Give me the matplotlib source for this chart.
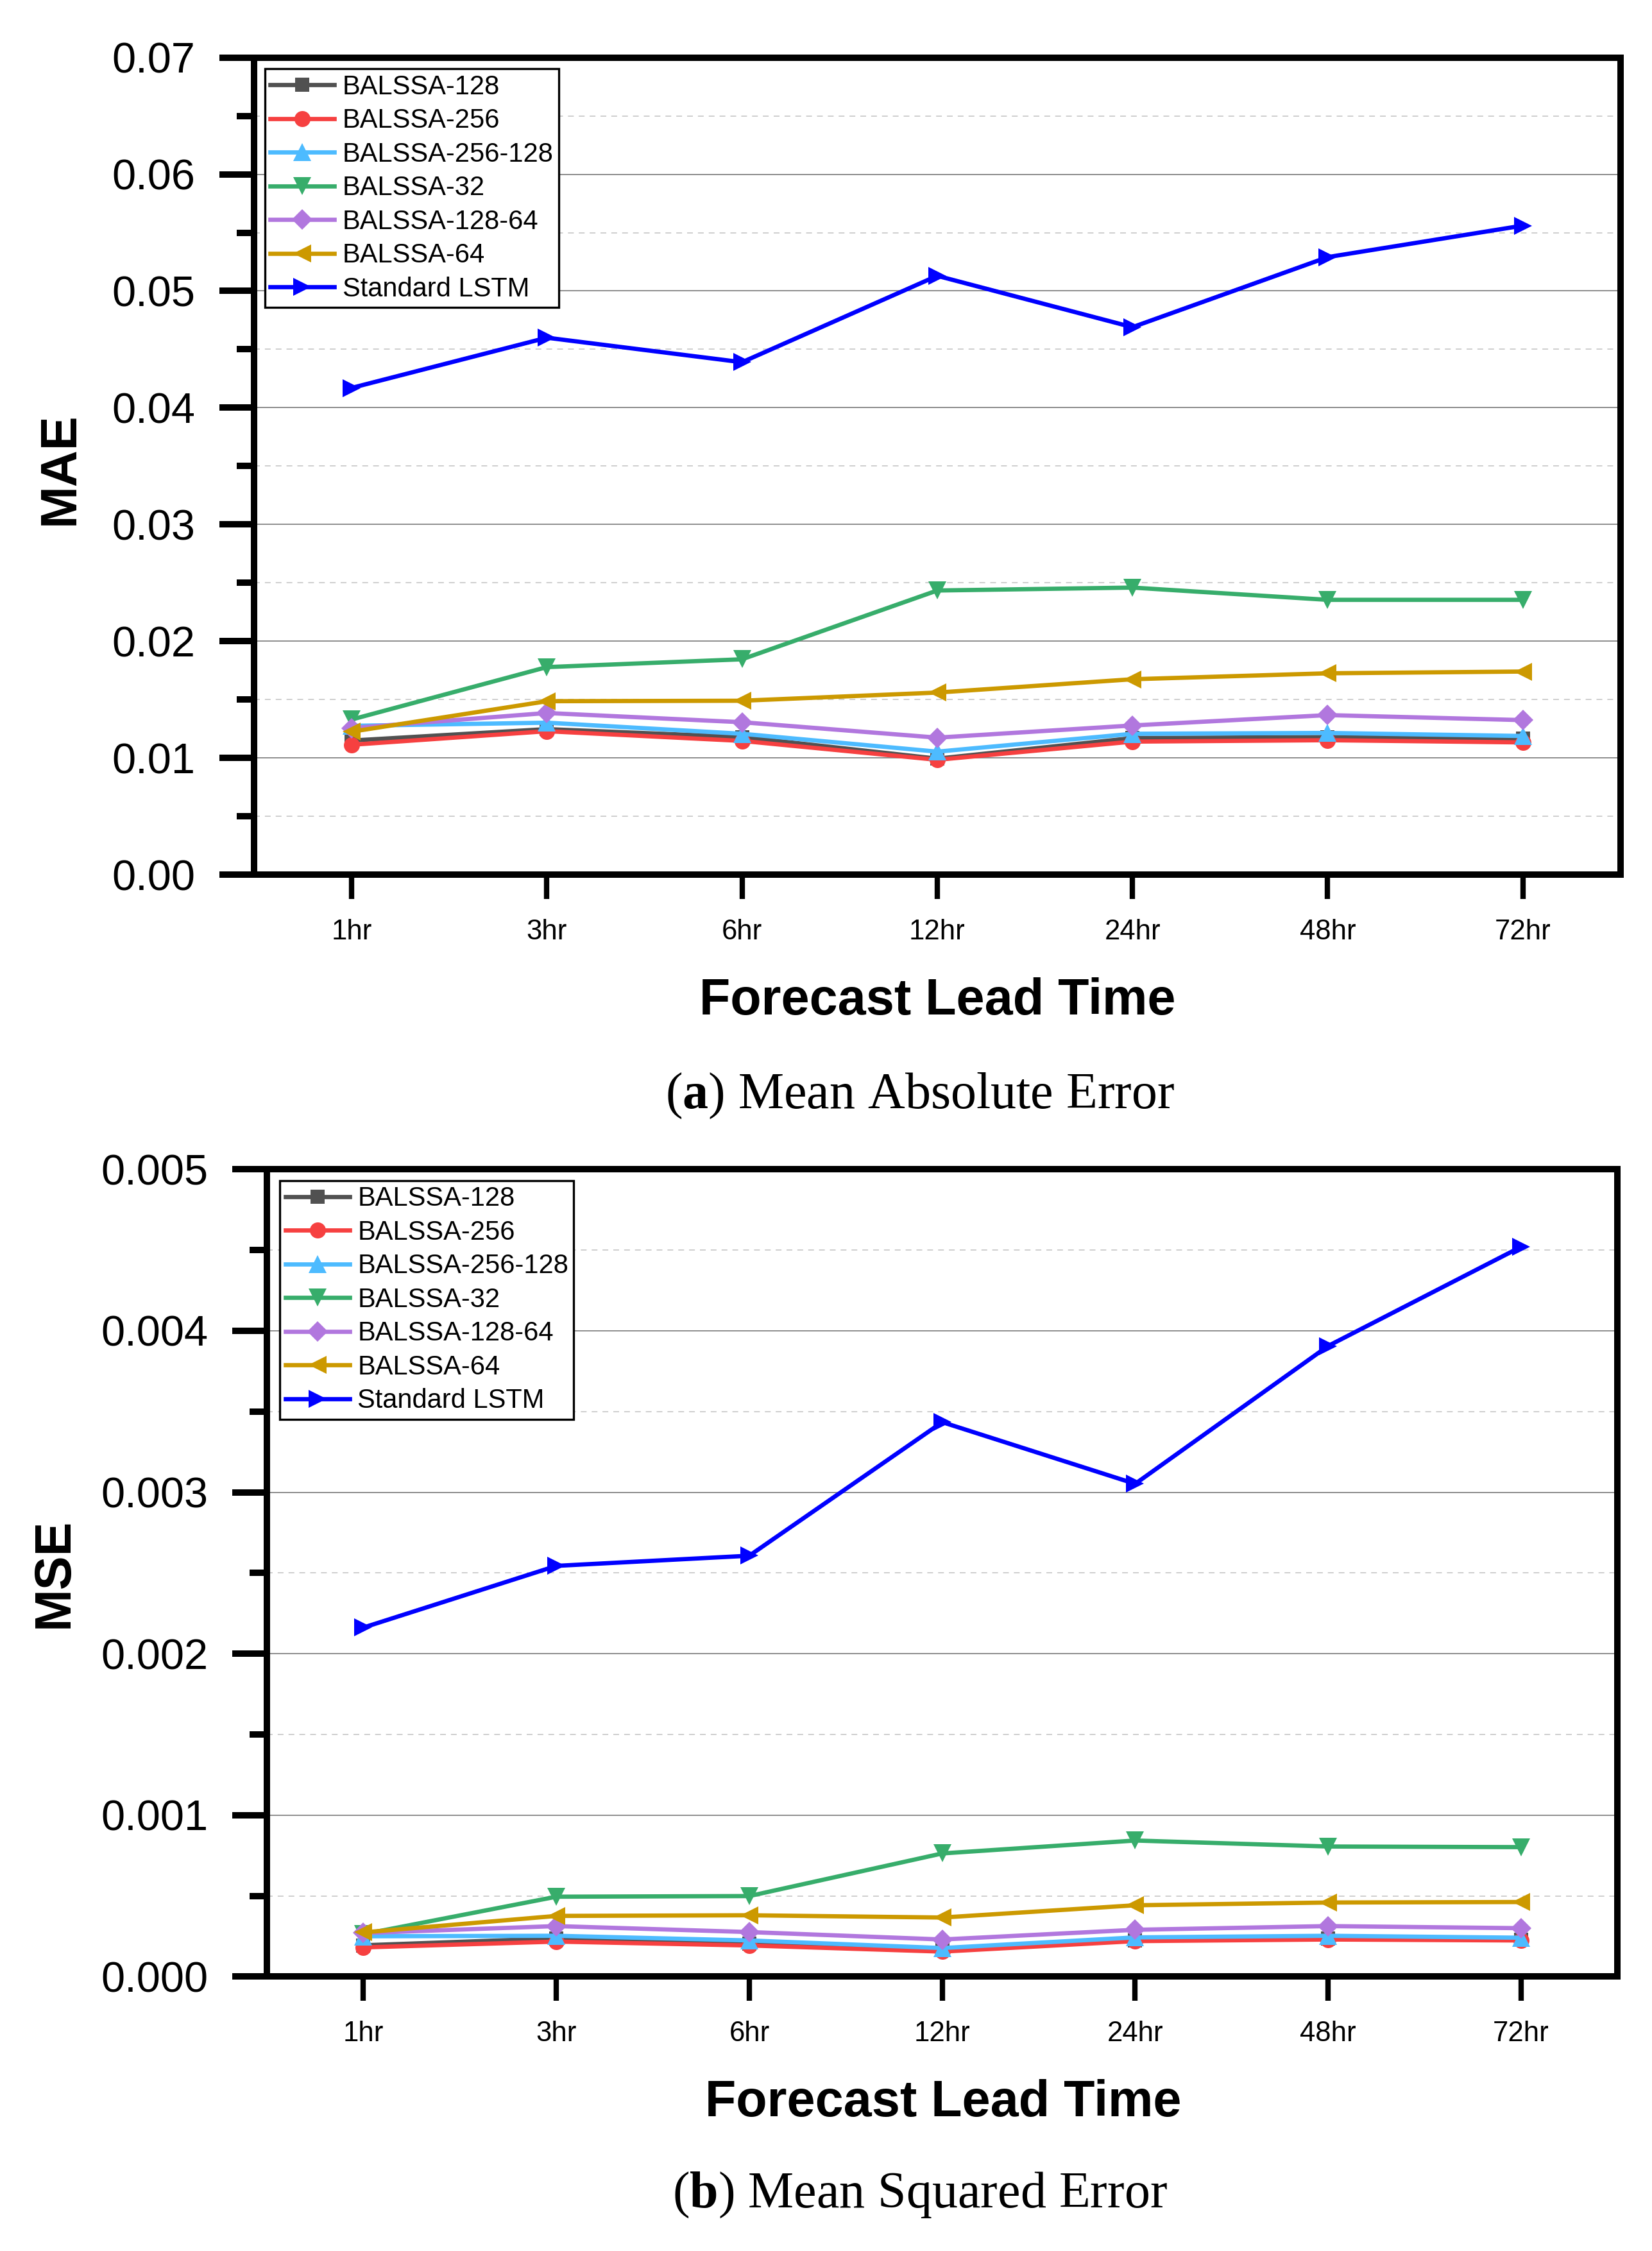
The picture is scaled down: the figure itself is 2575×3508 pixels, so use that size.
import matplotlib
matplotlib.use("Agg")
import matplotlib.pyplot as plt
from matplotlib.ticker import MultipleLocator, FormatStrFormatter

plt.rcParams['font.family'] = ['Liberation Sans', 'DejaVu Sans']
plt.rcParams['mathtext.fontset'] = 'custom'
plt.rcParams['mathtext.rm'] = 'Liberation Serif'
plt.rcParams['mathtext.bf'] = 'Liberation Serif:bold'

lead_times = ["1hr", "3hr", "6hr", "12hr", "24hr", "48hr", "72hr"]
series_names = ["BALSSA-128", "BALSSA-256", "BALSSA-256-128", "BALSSA-32",
                "BALSSA-128-64", "BALSSA-64", "Standard LSTM"]

mae_balssa_128 = [0.01150, 0.01248, 0.01180, 0.00995, 0.01171, 0.01180, 0.01165]
mae_balssa_256 = [0.01114, 0.01230, 0.01147, 0.00985, 0.01141, 0.01153, 0.01134]
mae_balssa_256_128 = [0.01276, 0.01303, 0.01208, 0.01055, 0.01208, 0.01215, 0.01189]
mae_balssa_32 = [0.01330, 0.01779, 0.01846, 0.02435, 0.02460, 0.02355, 0.02355]
mae_balssa_128_64 = [0.01257, 0.01386, 0.01307, 0.01175, 0.01279, 0.01368, 0.01325]
mae_balssa_64 = [0.01226, 0.01487, 0.01491, 0.01561, 0.01675, 0.01726, 0.01741]
mae_lstm = [0.0417, 0.0460, 0.0439, 0.0513, 0.0469, 0.0529, 0.0556]

mse_balssa_128 = [0.000194, 0.000237, 0.000204, 0.000168, 0.000226, 0.000237, 0.000230]
mse_balssa_256 = [0.000181, 0.000217, 0.000193, 0.000155, 0.000220, 0.000230, 0.000224]
mse_balssa_256_128 = [0.000250, 0.000253, 0.000224, 0.000177, 0.000243, 0.000253, 0.000241]
mse_balssa_32 = [0.000263, 0.000495, 0.000499, 0.000763, 0.000843, 0.000806, 0.000802]
mse_balssa_128_64 = [0.000270, 0.000313, 0.000276, 0.000230, 0.000290, 0.000313, 0.000300]
mse_balssa_64 = [0.000274, 0.000376, 0.000380, 0.000366, 0.000442, 0.000459, 0.000462]
mse_lstm = [0.002162, 0.002544, 0.002607, 0.003434, 0.003052, 0.003906, 0.004520]

colors = ["#515151", "#F64040", "#4DBBFF", "#37AD6B", "#B177DE", "#CC9900", "#0000FF"]
markers = ["s", "o", "^", "v", "D", "<", ">"]
msizes = [5.5, 6, 6.5, 6.5, 5.5, 6.5, 6.5]

mae_data = [mae_balssa_128, mae_balssa_256, mae_balssa_256_128, mae_balssa_32,
            mae_balssa_128_64, mae_balssa_64, mae_lstm]
mse_data = [mse_balssa_128, mse_balssa_256, mse_balssa_256_128, mse_balssa_32,
            mse_balssa_128_64, mse_balssa_64, mse_lstm]

fig = plt.figure(figsize=(2575/300, 3508/300), dpi=300)

W, H = 1151.0, 1567.0

def fx(x):
    return x / W

def fy(y):
    return 1 - y / H

ax1 = fig.add_axes([fx(177), fy(609), fx(1129) - fx(177), fy(40) - fy(609)])
ax2 = fig.add_axes([fx(186), fy(1376), fx(1127) - fx(186), fy(814) - fy(1376)])

def style(ax, data, ymax, major, minor, fmt, leg_anchor):
    x = list(range(len(lead_times)))
    for vals, name, c, m, ms in zip(data, series_names, colors, markers, msizes):
        ax.plot(x, vals, color=c, marker=m, markersize=ms, linewidth=1.6,
                markeredgewidth=0, label=name, zorder=3)
    ax.set_xlim(-0.5, 6.5)
    ax.set_ylim(0, ymax)
    ax.set_xticks(x)
    ax.set_xticklabels(lead_times)
    ax.yaxis.set_major_locator(MultipleLocator(major))
    ax.yaxis.set_minor_locator(MultipleLocator(minor))
    ax.yaxis.set_major_formatter(FormatStrFormatter(fmt))
    ax.grid(which='major', axis='y', color='#888888', linewidth=0.45, linestyle='-', zorder=0)
    ax.grid(which='minor', axis='y', color='#cccccc', linewidth=0.45,
            linestyle=(0, (4.8, 4.2)), zorder=0)
    ax.set_axisbelow(True)
    for sp in ax.spines.values():
        sp.set_linewidth(2.4)
        sp.set_color('black')
    ax.tick_params(axis='y', which='major', direction='out', length=13, width=2.4,
                   labelsize=16, pad=9)
    ax.tick_params(axis='y', which='minor', direction='out', length=6.5, width=2.4)
    ax.tick_params(axis='x', which='major', direction='out', length=9, width=2.0,
                   labelsize=10.5, pad=7.5)
    ax.tick_params(axis='x', which='minor', bottom=False)
    leg = ax.legend(loc='upper left', bbox_to_anchor=leg_anchor, borderaxespad=0,
                    fontsize=10, frameon=True, fancybox=False, framealpha=1,
                    edgecolor='black', handlelength=2.4, handletextpad=0.3,
                    labelspacing=0.3, borderpad=0.2, markerscale=1.0)
    leg.get_frame().set_linewidth(0.8)

style(ax1, mae_data, 0.07, 0.01, 0.005, '%.2f', (0.008, 0.986))
style(ax2, mse_data, 0.005, 0.001, 0.0005, '%.3f', (0.0096, 0.986))

fig.text(fx(42), fy(326), "MAE", rotation=90, fontsize=19, fontweight='bold',
         ha='center', va='center')
fig.text(fx(653), fy(697), "Forecast Lead Time", fontsize=19, fontweight='bold',
         ha='center', va='center')
fig.text(fx(641), fy(763), r"($\mathbf{a}$) Mean Absolute Error", fontsize=19.2,
         family='Liberation Serif', ha='center', va='center')

fig.text(fx(38), fy(1095), "MSE", rotation=90, fontsize=19, fontweight='bold',
         ha='center', va='center')
fig.text(fx(657), fy(1464), "Forecast Lead Time", fontsize=19, fontweight='bold',
         ha='center', va='center')
fig.text(fx(641), fy(1528), r"($\mathbf{b}$) Mean Squared Error", fontsize=19.2,
         family='Liberation Serif', ha='center', va='center')

fig.savefig("out.png", dpi=300)
